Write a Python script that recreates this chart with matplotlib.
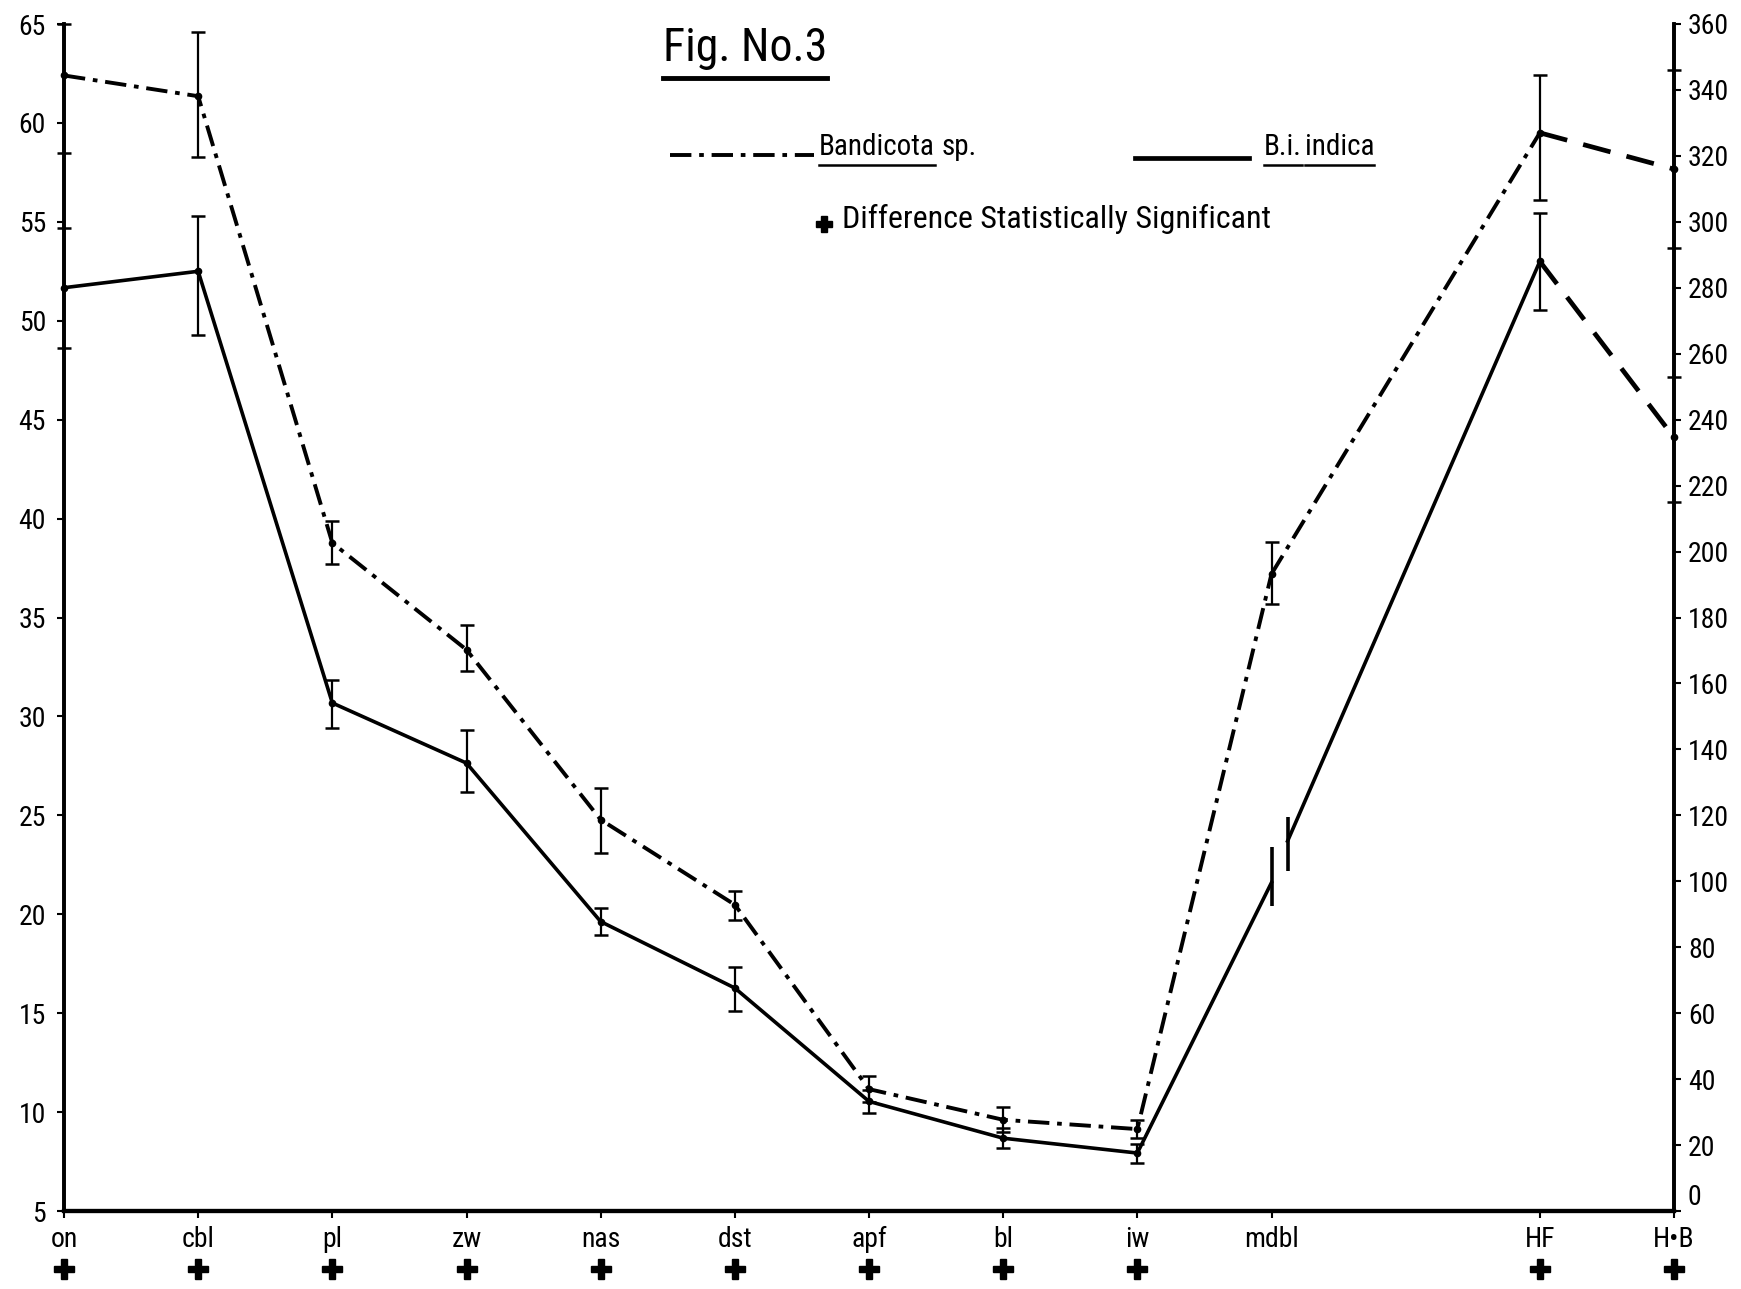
import matplotlib
matplotlib.use("Agg")
import matplotlib.pyplot as plt
from matplotlib import font_manager
import numpy as np

# measurements (left scale: mm, right scale used for HF and H.B)
labels = ["on", "cbl", "pl", "zw", "nas", "dst", "apf", "bl", "iw", "mdbl", "HF", "H\u2022B"]
xpos = [0, 1, 2, 3, 4, 5, 6, 7, 8, 9, 11, 12]
signif = [1, 1, 1, 1, 1, 1, 1, 1, 1, 0, 1, 1]

band = [62.4, 61.35, 38.77, 33.37, 24.78, 20.48, 11.16, 9.61, 9.14, 37.2]
band_lo = [58.5, 58.3, 37.7, 32.3, 23.1, 19.7, 10.5, 9.0, 8.7, 35.7]
band_hi = [65.0, 64.6, 39.9, 34.6, 26.4, 21.2, 11.8, 10.25, 9.6, 38.8]
band_r = [327, 316]
band_r_lo = [306.6, 292]
band_r_hi = [344.6, 346]

bii = [51.67, 52.5, 30.68, 27.64, 19.63, 16.27, 10.54, 8.68, 7.93, 21.6]
bii_lo = [48.6, 49.3, 29.4, 26.2, 18.96, 15.12, 9.95, 8.18, 7.45, 20.4]
bii_hi = [54.7, 55.3, 31.85, 29.33, 20.31, 17.33, 11.1, 9.2, 8.4, 23.4]
bii_r = [288, 234.6]
bii_r_lo = [273.4, 215]
bii_r_hi = [302.8, 253]
# second mdbl reading of B.i. indica
bii_mdbl2 = (9.12, 23.7, 22.2, 24.9)

avail = {f.name for f in font_manager.fontManager.ttflist}
font = "DejaVu Sans"
for cand in ["Liberation Sans Narrow", "DejaVu Sans Condensed", "Roboto Condensed", "Open Sans Condensed"]:
    if cand in avail:
        font = cand
        break
plt.rcParams["font.family"] = [font, "DejaVu Sans"]

W, H = 1741, 1289
fig = plt.figure(figsize=(W / 100, H / 100), dpi=100)
ax = fig.add_axes([64 / W, 1 - 1211 / H, (1674 - 64) / W, (1211 - 24) / H])
ax2 = ax.twinx()


def r2l(v):
    # right axis 0..360 sits on left axis 5..65
    return 5 + np.asarray(v) / 6.0


k = "black"
dashdot = (0, (5.5, 2.0, 1.2, 2.0))
eb = dict(fmt="none", ecolor=k, elinewidth=1.6, capsize=5, capthick=1.8, clip_on=False)

# Bandicota sp.
bx = xpos[:10]
ax.plot(bx, band, color=k, lw=2.8, ls=dashdot, clip_on=False)
ax.plot([xpos[9], xpos[10]], [band[9], r2l(band_r[0])], color=k, lw=2.8, ls=dashdot, clip_on=False)
ax.plot(xpos[10:], r2l(band_r), color=k, lw=3.4, ls=(0, (6, 3.5)), clip_on=False)
ax.plot(bx + xpos[10:], band + list(r2l(band_r)), "o", color=k, ms=4.5, clip_on=False)
b = np.array(band)
ax.errorbar(bx, band, yerr=[b - np.array(band_lo), np.array(band_hi) - b], **eb)
br = r2l(band_r)
ax.errorbar(xpos[10:], br, yerr=[br - r2l(band_r_lo), r2l(band_r_hi) - br], **eb)

# B.i. indica
ax.plot(bx, bii, color=k, lw=2.6, clip_on=False)
ax.plot([bii_mdbl2[0], xpos[10]], [bii_mdbl2[1], r2l(bii_r[0])], color=k, lw=2.6, clip_on=False)
ax.plot(xpos[10:], r2l(bii_r), color=k, lw=3.4, ls=(0, (6, 3.5)), clip_on=False)
ax.plot(bx[:9] + xpos[10:], bii[:9] + list(r2l(bii_r)), "o", color=k, ms=4.5, clip_on=False)
c = np.array(bii)
ax.errorbar(bx[:9], bii[:9], yerr=[c[:9] - np.array(bii_lo[:9]), np.array(bii_hi[:9]) - c[:9]], **eb)
cr = r2l(bii_r)
ax.errorbar(xpos[10:], cr, yerr=[cr - r2l(bii_r_lo), r2l(bii_r_hi) - cr], **eb)
ax.vlines(xpos[9], bii_lo[9], bii_hi[9], color=k, lw=2.6)
ax.vlines(bii_mdbl2[0], bii_mdbl2[2], bii_mdbl2[3], color=k, lw=2.6)

# axes
ax.set_xlim(0, 12)
ax.set_ylim(5, 65)
ax2.set_ylim(0, 360)
ax.set_yticks(np.arange(5, 66, 5))
ax2.set_yticks(np.arange(0, 361, 20))
ax.set_xticks(xpos)
ax.set_xticklabels(labels)
for a in (ax, ax2):
    a.spines["top"].set_visible(False)
    a.spines["left"].set_linewidth(2.6)
    a.spines["right"].set_linewidth(2.6)
    a.spines["bottom"].set_linewidth(3.0)
ax.tick_params(axis="y", direction="out", length=5, width=1.5, pad=8, labelsize=20)
ax.tick_params(axis="x", direction="out", length=5, width=1.5, pad=6, labelsize=20)
ax2.tick_params(axis="y", direction="out", length=5, width=1.5, pad=5, labelsize=20)
ax2.get_yticklabels()[0].set_va("bottom")

# significance crosses under the labels
sx = [x for x, s in zip(xpos, signif) if s]
ax.plot(sx, [-0.049] * len(sx), "P", color=k, ms=14, transform=ax.get_xaxis_transform(), clip_on=False)


def ftext(x, y, s, **kw):
    return fig.text(x / W, 1 - y / H, s, va="center", ha="left", **kw)


def underline(t, dy=4, lw=1.8):
    bb = t.get_window_extent(renderer)
    fig.add_artist(plt.Line2D([bb.x0 / W, bb.x1 / W], [(bb.y0 - dy) / H] * 2,
                              transform=fig.transFigure, color=k, lw=lw))


renderer = fig.canvas.get_renderer()

title = fig.text(745 / W, 1 - 48 / H, "Fig. No.3", ha="center", va="center", fontsize=33)
underline(title, dy=8, lw=3.5)

fig.add_artist(plt.Line2D([670 / W, 814 / W], [1 - 155 / H] * 2, transform=fig.transFigure,
                          color=k, lw=2.8, ls=dashdot))
t1 = ftext(819, 147, "Bandicota", fontsize=21)
underline(t1)
bb = t1.get_window_extent(renderer)
ftext(bb.x1 + 7, 147, "sp.", fontsize=21)

fig.add_artist(plt.Line2D([1135 / W, 1249 / W], [1 - 158 / H] * 2, transform=fig.transFigure,
                          color=k, lw=3.4))
t2 = ftext(1264, 147, "B.i.", fontsize=21)
underline(t2)
bb = t2.get_window_extent(renderer)
t3 = ftext(bb.x1 + 3, 147, "indica", fontsize=21)
underline(t3)

fig.add_artist(plt.Line2D([824 / W], [1 - 224 / H], marker="P", ms=12, color=k,
                          transform=fig.transFigure))
ftext(842, 219, "Difference Statistically Significant", fontsize=23)

fig.savefig("out.png", dpi=100)
